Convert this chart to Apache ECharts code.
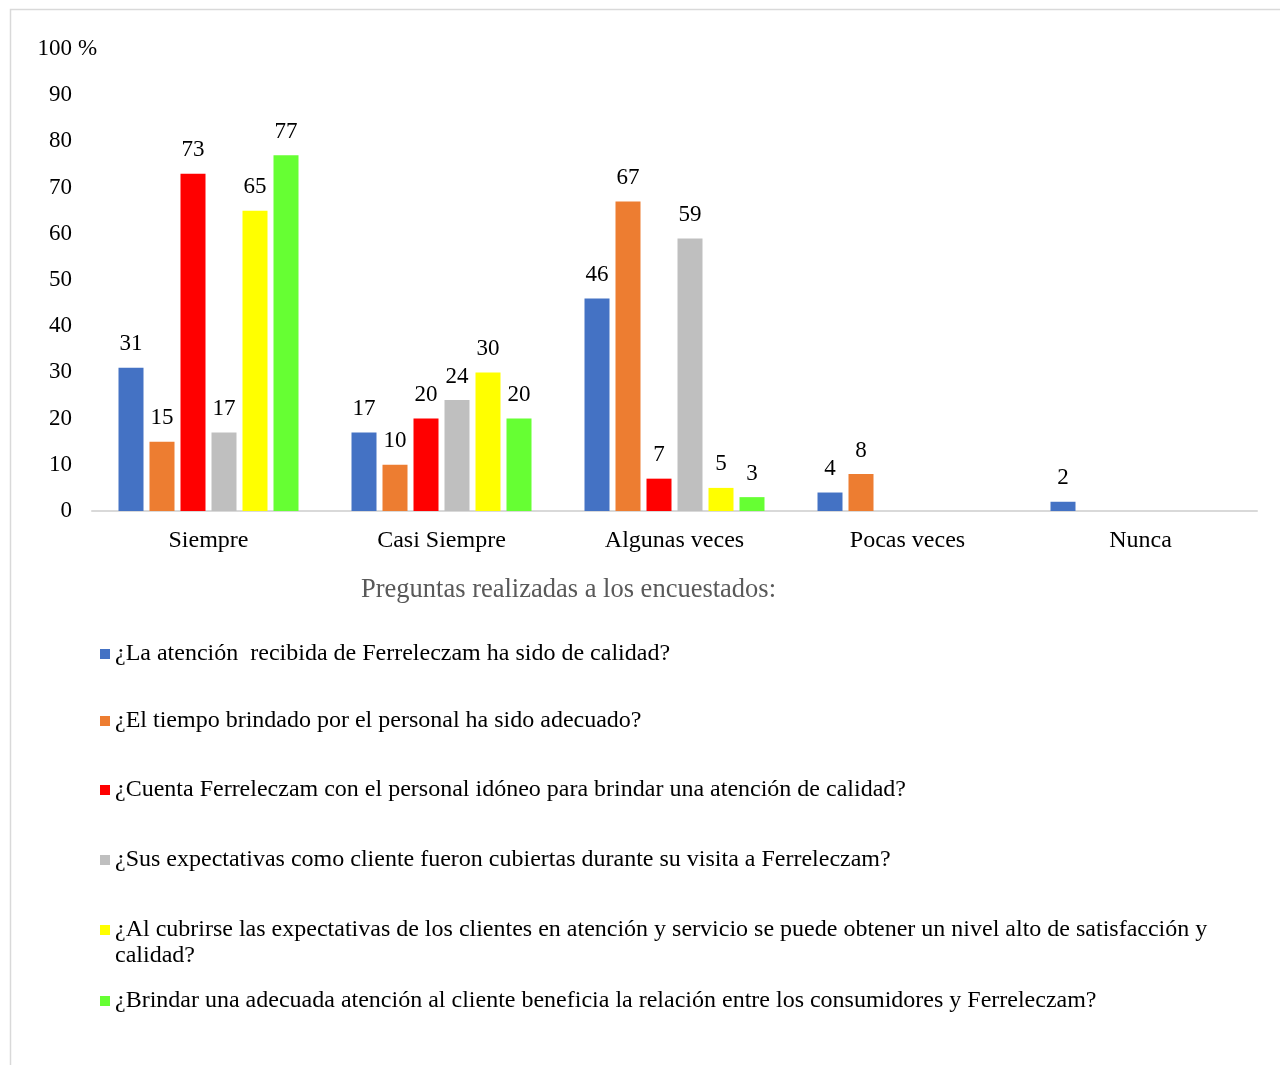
<!DOCTYPE html>
<html>
<head>
<meta charset="utf-8">
<script src="https://cdn.jsdelivr.net/npm/echarts@6/dist/echarts.min.js"></script>
<style>
  html, body { margin: 0; padding: 0; background: #fff; }
  #chart { width: 1280px; height: 1065px; }
</style>
</head>
<body>
<div id="chart"></div>
<script>
const categories = ['Siempre', 'Casi Siempre', 'Algunas veces', 'Pocas veces', 'Nunca'];
const yTicks = [0, 10, 20, 30, 40, 50, 60, 70, 80, 90, 100];
const seriesNames = [
  '¿La atención  recibida de Ferreleczam ha sido de calidad?',
  '¿El tiempo brindado por el personal ha sido adecuado?',
  '¿Cuenta Ferreleczam con el personal idóneo para brindar una atención de calidad?',
  '¿Sus expectativas como cliente fueron cubiertas durante su visita a Ferreleczam?',
  '¿Al cubrirse las expectativas de los clientes en atención y servicio se puede obtener un nivel alto de satisfacción y calidad?',
  '¿Brindar una adecuada atención al cliente beneficia la relación entre los consumidores y Ferreleczam?'
];
const q1 = [31, 17, 46, 4, 2];
const q2 = [15, 10, 67, 8, 0];
const q3 = [73, 20, 7, 0, 0];
const q4 = [17, 24, 59, 0, 0];
const q5 = [65, 30, 5, 0, 0];
const q6 = [77, 20, 3, 0, 0];
const seriesValues = [q1, q2, q3, q4, q5, q6];
const colors = ['#4472C4', '#ED7D31', '#FF0000', '#BFBFBF', '#FFFF00', '#66FF33'];
const axisTitle = 'Preguntas realizadas a los encuestados:';
const unitLabel = '%';

const FONT = '"Liberation Serif", "Times New Roman", serif';
const chart = echarts.init(document.getElementById('chart'), null, { renderer: 'canvas' });

const LEG_FS = 24;
const legendCenters = [654, 721, 790, 860, 930, 1001];
const legends = seriesNames.map((n, i) => {
  const multi = i === 4;
  return {
    data: [n],
    orient: 'vertical',
    left: 100,
    top: multi ? legendCenters[i] - 39 : legendCenters[i] - 12,
    padding: 0,
    itemWidth: 10,
    itemHeight: 10,
    icon: 'rect',
    selectedMode: false,
    formatter: multi
      ? (name => '\n' + name.replace('satisfacción y calidad?', 'satisfacción y\ncalidad?'))
      : undefined,
    textStyle: multi
      ? { fontFamily: FONT, fontSize: LEG_FS, color: '#000', lineHeight: 26 }
      : { fontFamily: FONT, fontSize: LEG_FS, color: '#000' }
  };
});

const option = {
  animation: false,
  backgroundColor: '#fff',
  color: colors,
  title: {
    text: axisTitle,
    left: 361,
    top: 577,
    padding: 0,
    textStyle: { fontFamily: FONT, fontSize: 26.5, fontWeight: 'normal', color: '#595959' }
  },
  legend: legends,
  graphic: [{
    type: 'rect', left: 8, top: 7, silent: true,
    shape: { width: 1400, height: 1200 },
    style: { fill: 'none', stroke: '#D9D9D9', lineWidth: 1.5 }
  }],
  grid: { left: 92, right: 23, top: 49, bottom: 554, containLabel: false },
  xAxis: {
    type: 'category',
    data: categories,
    axisTick: { show: false },
    axisLine: { lineStyle: { color: '#D9D9D9', width: 2 } },
    axisLabel: { fontFamily: FONT, fontSize: 24, color: '#000', margin: 18 }
  },
  yAxis: {
    type: 'value',
    min: yTicks[0],
    max: yTicks[yTicks.length - 1],
    interval: yTicks[1] - yTicks[0],
    name: unitLabel,
    nameLocation: 'end',
    nameGap: 0,
    nameTextStyle: { fontFamily: FONT, fontSize: 23, color: '#000', align: 'left', verticalAlign: 'middle', padding: [0, 0, 0, -14] },
    axisLine: { show: false },
    axisTick: { show: false },
    splitLine: { show: false },
    axisLabel: { fontFamily: FONT, fontSize: 23, color: '#000', margin: 20 }
  },
  series: seriesValues.map((vals, i) => ({
    name: seriesNames[i],
    type: 'bar',
    data: vals,
    barWidth: 25,
    barGap: '24%',
    itemStyle: { color: colors[i] },
    label: {
      show: true,
      position: 'top',
      distance: 12,
      fontFamily: FONT,
      fontSize: 23,
      color: '#000',
      formatter: p => (p.value === 0 ? '' : String(p.value))
    }
  }))
};
chart.setOption(option);
</script>
</body>
</html>
